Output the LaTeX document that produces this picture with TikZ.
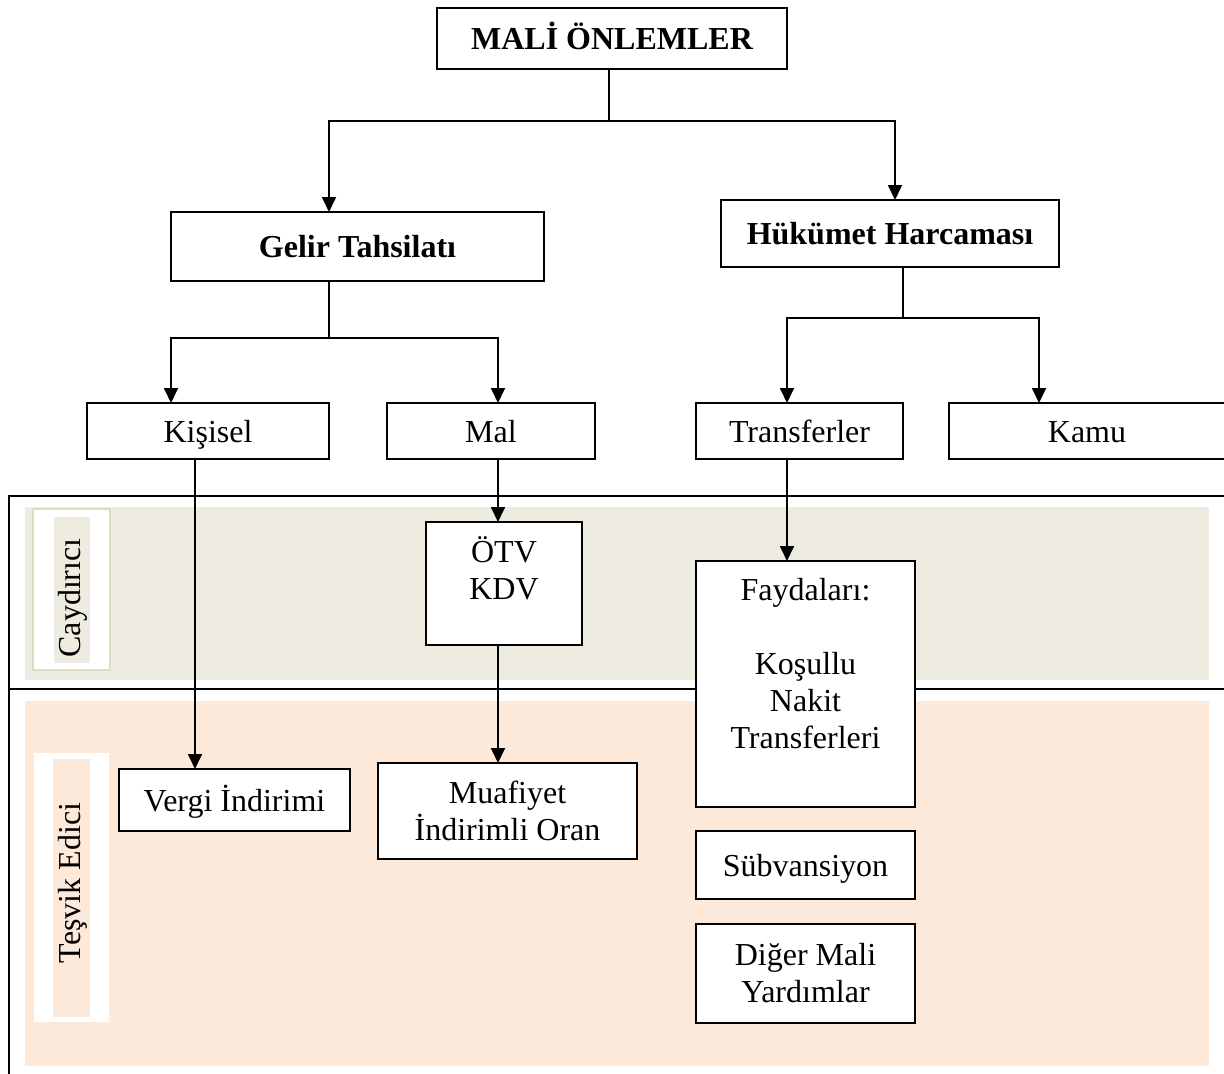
\documentclass[tikz,border=0pt]{standalone}
\usepackage{fontspec}
\setmainfont{Liberation Serif}
\usetikzlibrary{arrows.meta,calc}
\definecolor{beigeband}{HTML}{EEEBE0}
\definecolor{peachband}{HTML}{FCE9DA}
\definecolor{labelborder}{HTML}{DEDAC6}
\begin{document}
\begin{tikzpicture}[x=1pt,y=-1pt,
  box/.style={draw,line width=1.8pt,fill=white,inner sep=0pt,outer sep=0pt,align=center,font=\fontsize{32}{37}\selectfont},
  txt/.style={inner sep=0pt,align=center,font=\fontsize{32}{37}\selectfont},
  one/.style={text height=24pt,text depth=2pt},
  bbox/.style={box,font=\fontsize{32}{37}\selectfont\bfseries},
  arr/.style={line width=1.8pt,-{Triangle[length=15pt,width=14pt]}},
  ln/.style={line width=1.8pt},
  frame/.style={line width=2.2pt}]
\useasboundingbox (0,0) rectangle (1224,1074);
\clip (0,0) rectangle (1224,1074);
% bands
\fill[beigeband] (25,507) rectangle (1209,680);
\fill[peachband] (25,701) rectangle (1209,1066);
\draw[frame] (9,1080) -- (9,496) -- (1230,496);
\draw[frame] (9,689) -- (1230,689);
% side labels
\draw[labelborder,line width=1.5pt,fill=white] (33,509) rectangle (110,670);
\fill[beigeband] (54,517) rectangle (90,663);
\node[txt,rotate=90] (cay) at (73,598) {Caydırıcı};
\fill[white] (34,753) rectangle (109,1022);
\fill[peachband] (53,759) rectangle (90,1017);
\node[txt,rotate=90] (tes) at (73,883) {Teşvik Edici};
% top boxes
\node[bbox,one,minimum width=350,minimum height=61] (mali) at (612,38.5) {MALİ ÖNLEMLER};
\node[bbox,one,minimum width=373,minimum height=69] (gelir) at (357.5,246.5) {Gelir Tahsilatı};
\node[bbox,one,minimum width=338,minimum height=67] (huk) at (890,233.5) {Hükümet Harcaması};
\node[box,one,minimum width=242,minimum height=56] (kis) at (208,431) {Kişisel};
\node[box,one,minimum width=208,minimum height=56] (mal) at (491,431) {Mal};
\node[box,one,minimum width=207,minimum height=56] (tra) at (799.5,431) {Transferler};
\node[box,one,minimum width=278,minimum height=56] (kamu) at (1088,431) {\hspace*{-2pt}Kamu};
% lower boxes
\node[box,minimum width=156,minimum height=123] (otv) at (504,583.5) {};
\node[txt] (otvt) at (504,568.5) {ÖTV\\KDV};
\node[box,minimum width=219,minimum height=246] (fay) at (805.5,684) {};
\node[txt] (fayt) at (805.5,663.5) {Faydaları:\\[37pt]Koşullu\\Nakit\\Transferleri};
\node[box,one,minimum width=231,minimum height=62] (ver) at (234.5,800) {Vergi İndirimi};
\node[box,minimum width=259,minimum height=96] (muaf) at (507.5,811) {Muafiyet\\İndirimli Oran};
\node[box,one,minimum width=219,minimum height=68] (sub) at (805.5,865) {Sübvansiyon};
\node[box,minimum width=219,minimum height=99] (dig) at (805.5,973.5) {Diğer Mali\\Yardımlar};
% connectors
\coordinate (b1) at (609,121);
\draw[ln] ([xshift=-3pt]mali.south) -- (b1);
\draw[arr] (b1) -| ([xshift=158pt]gelir.north west);
\draw[arr] (b1) -| ([xshift=174pt]huk.north west);
\coordinate (b2) at (329,338);
\draw[ln] ([xshift=158pt]gelir.south west) -- (b2);
\draw[arr] (b2) -| ([xshift=84pt]kis.north west);
\draw[arr] (b2) -| ([xshift=111pt]mal.north west);
\coordinate (b3) at (903,318);
\draw[ln] ([xshift=182pt]huk.south west) -- (b3);
\draw[arr] (b3) -| ([xshift=91pt]tra.north west);
\draw[arr] (b3) -| ([xshift=90pt]kamu.north west);
\draw[arr] ([xshift=108pt]kis.south west) -- ([xshift=76pt]ver.north west);
\draw[arr] ([xshift=111pt]mal.south west) -- ([xshift=72pt]otv.north west);
\draw[arr] ([xshift=72pt]otv.south west) -- ([xshift=120pt]muaf.north west);
\draw[arr] ([xshift=91pt]tra.south west) -- ([xshift=91pt]fay.north west);
\end{tikzpicture}
\end{document}
